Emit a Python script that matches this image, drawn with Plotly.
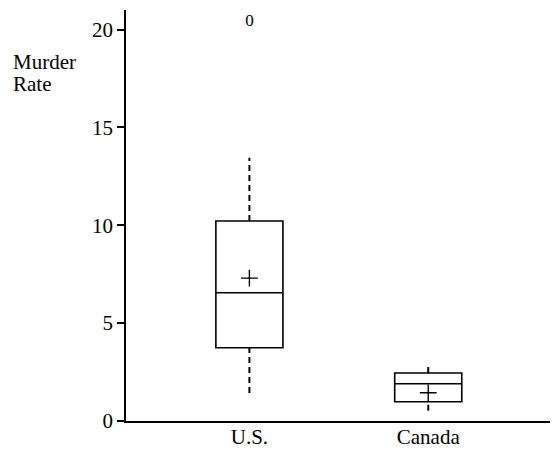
import plotly.graph_objects as go

categories = ["U.S.", "Canada"]
q1 = [3.74, 0.98]
median = [6.55, 1.90]
q3 = [10.22, 2.45]
whisker_low = [1.43, 0.53]
whisker_high = [13.45, 2.77]
means = [7.30, 1.44]
outlier_cat = ["U.S."]
outlier_val = [20.4]
y_ticks = [0, 5, 10, 15, 20]
y_title_lines = ["Murder", "Rate"]

FONT = "Liberation Serif, Times New Roman, Times, serif"
TICKFONT = dict(family=FONT, size=21, color="black")
fig = go.Figure()

for i, c in enumerate(categories):
    fig.add_trace(go.Box(
        x=[c], q1=[q1[i]], median=[median[i]], q3=[q3[i]],
        lowerfence=[q1[i]], upperfence=[q3[i]],
        width=0.375, whiskerwidth=0,
        fillcolor="rgba(255,255,255,0)",
        line=dict(color="black", width=1.6),
        boxpoints=False, hoverinfo="skip", showlegend=False,
    ))
    # dashed whiskers
    fig.add_trace(go.Scatter(
        x=[c, c], y=[q3[i], whisker_high[i]], mode="lines",
        line=dict(color="black", width=2, dash="6px,4px"),
        showlegend=False, hoverinfo="skip"))
    fig.add_trace(go.Scatter(
        x=[c, c], y=[whisker_low[i], q1[i]], mode="lines",
        line=dict(color="black", width=2, dash="6px,4px"),
        showlegend=False, hoverinfo="skip"))

# means
fig.add_trace(go.Scatter(
    x=categories, y=means, mode="markers",
    marker=dict(symbol="cross-thin", size=12, line=dict(color="black", width=1.4)),
    showlegend=False, hoverinfo="skip"))

# outlier
fig.add_trace(go.Scatter(
    x=outlier_cat, y=outlier_val, mode="text", text=["0"],
    textfont=dict(family=FONT, size=17, color="black"),
    showlegend=False, hoverinfo="skip"))

# y-axis title lines (page y centres of the two lines)
title_centres = [62, 84]
annotations = [
    dict(text=t, xref="paper", yref="paper",
         x=-115/431, y=1 - (yc - 10) / 411, xanchor="left", yanchor="middle",
         align="left", showarrow=False,
         font=dict(family=FONT, size=21, color="black"))
    for t, yc in zip(y_title_lines, title_centres)
]

# page body has an 8px margin; size the figure so the plot lands where the reference has it
fig.update_layout(
    width=550, height=441,
    margin=dict(l=118, r=1, t=2, b=28, autoexpand=False),
    paper_bgcolor="white", plot_bgcolor="white",
    font=dict(family=FONT, size=21, color="black"),
    xaxis=dict(
        type="category", categoryorder="array", categoryarray=categories,
        range=[-0.69, 1.72], showline=True, linecolor="black", linewidth=1.5,
        ticks="", showgrid=False, zeroline=False, fixedrange=True,
        tickfont=TICKFONT, automargin=False, ticklabelstandoff=-4,
    ),
    yaxis=dict(
        range=[0, 21], tickvals=y_ticks, showline=True, linecolor="black",
        linewidth=1.5, ticks="outside", ticklen=7, tickwidth=1.5,
        tickcolor="black", showgrid=False, zeroline=False,
        tickfont=TICKFONT, automargin=False,
    ),
    annotations=annotations,
)

fig.write_html("out.html")
